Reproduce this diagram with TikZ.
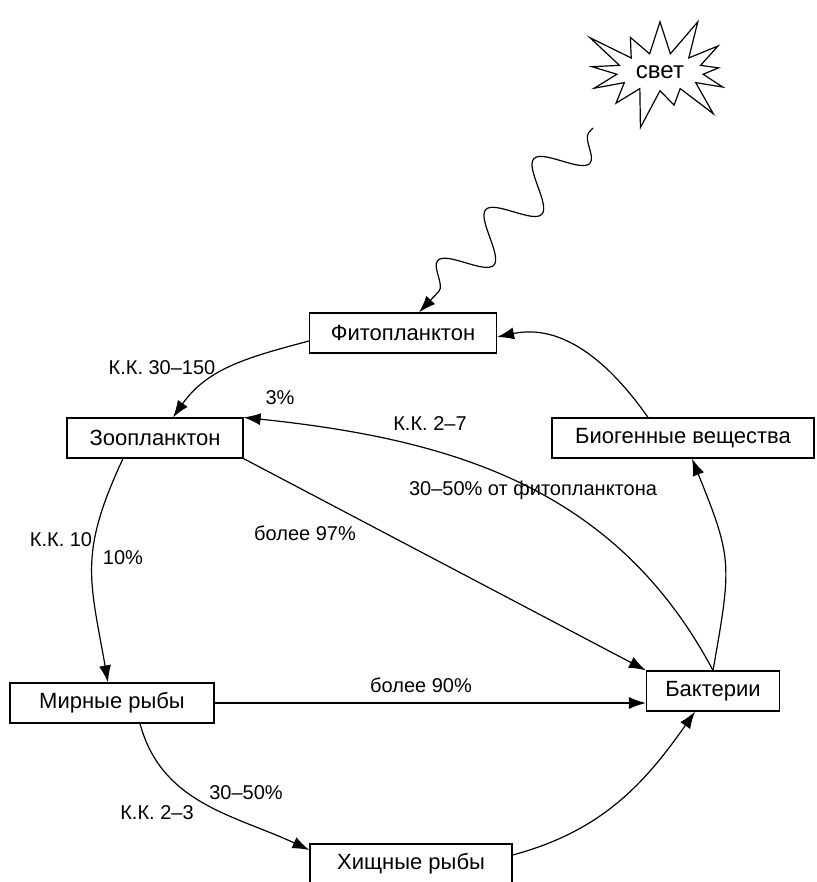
\documentclass[tikz,border=0pt]{standalone}
\usepackage{fontspec}
\setmainfont{Liberation Sans}
\usetikzlibrary{arrows.meta,shapes.symbols,decorations.pathmorphing}
\tikzstyle{box}=[rectangle,draw,semithick,fill=white,text=black,minimum height=20pt,inner xsep=6pt,font=\fontsize{11}{13}\selectfont]
\tikzstyle{flow}=[-{Latex[length=8.5pt,width=6pt]},semithick]
\tikzstyle{lbl}=[font=\fontsize{10}{12}\selectfont,inner sep=0pt]
\tikzstyle{light}=[flow,decorate,decoration={snake,segment length=35pt,amplitude=11pt,pre length=3pt,post length=14pt}]

\begin{document}
\begin{tikzpicture}[x=0.5pt,y=0.5pt]
  \useasboundingbox (0,0) rectangle (816,-882);

  \node[draw,semithick,starburst,starburst points=13,starburst point height=22pt,
        minimum width=68pt,minimum height=62pt,font=\fontsize{12}{14}\selectfont] (L) at (660,-72) {свет};
  \coordinate (Ls) at (593,-128);

  \node[box,minimum width=93.5pt] (P) at (403,-333) {Фитопланктон};
  \node[box,minimum width=88pt] (Z) at (155,-438) {Зоопланктон};
  \node[box,minimum width=131pt] (B) at (683,-438) {Биогенные вещества};
  \node[box,minimum width=102pt] (M) at (112,-703) {Мирные рыбы};
  \node[box,minimum width=66.5pt] (Bk) at (713,-691) {Бактерии};
  \node[box,minimum width=101pt] (H) at (411,-864) {Хищные рыбы};

  \node[lbl] (kk1) at (162,-368) {К.К. 30–150};
  \node[lbl] (p3) at (280,-398) {3\%};
  \node[lbl] (kk27) at (430,-424) {К.К. 2–7};
  \node[lbl] (p3050a) at (533,-490) {30–50\% от фитопланктона};
  \node[lbl] (kk10) at (61,-540) {К.К. 10};
  \node[lbl] (p10) at (123,-558) {10\%};
  \node[lbl] (p97) at (305,-533) {более 97\%};
  \node[lbl] (p90) at (421,-685) {более 90\%};
  \node[lbl] (p3050b) at (246,-793) {30–50\%};
  \node[lbl] (kk23) at (157,-813) {К.К. 2–3};

  \draw[light] (Ls) -- ([xshift=8pt]P.north);
  \draw[flow] ([yshift=-4pt]P.west) to[out=195,in=55] ([xshift=9pt]Z.north);
  \draw[flow] ([xshift=-16pt]Z.south) to[out=245,in=100,looseness=1.2] ([xshift=-2pt]M.north);
  \draw[flow] ([xshift=14pt]M.south) to[out=285,in=155] ([yshift=7pt]H.west);
  \draw[flow] ([yshift=4.5pt]H.east) to[out=15,in=235] ([xshift=-9pt]Bk.south);
  \draw[flow] (M.east) -- (M.east -| Bk.west);
  \draw[flow] (Z.south east) -- (Bk.north west);
  \draw[flow] (Bk.north) to[out=118,in=-6] (Z.north east);
  \draw[flow] (Bk.north) to[out=80,in=292,looseness=1.3] ([xshift=4.5pt]B.south);
  \draw[flow] ([xshift=-17.5pt]B.north) to[out=125,in=12] ([yshift=-2pt]P.east);

\end{tikzpicture}
\end{document}
